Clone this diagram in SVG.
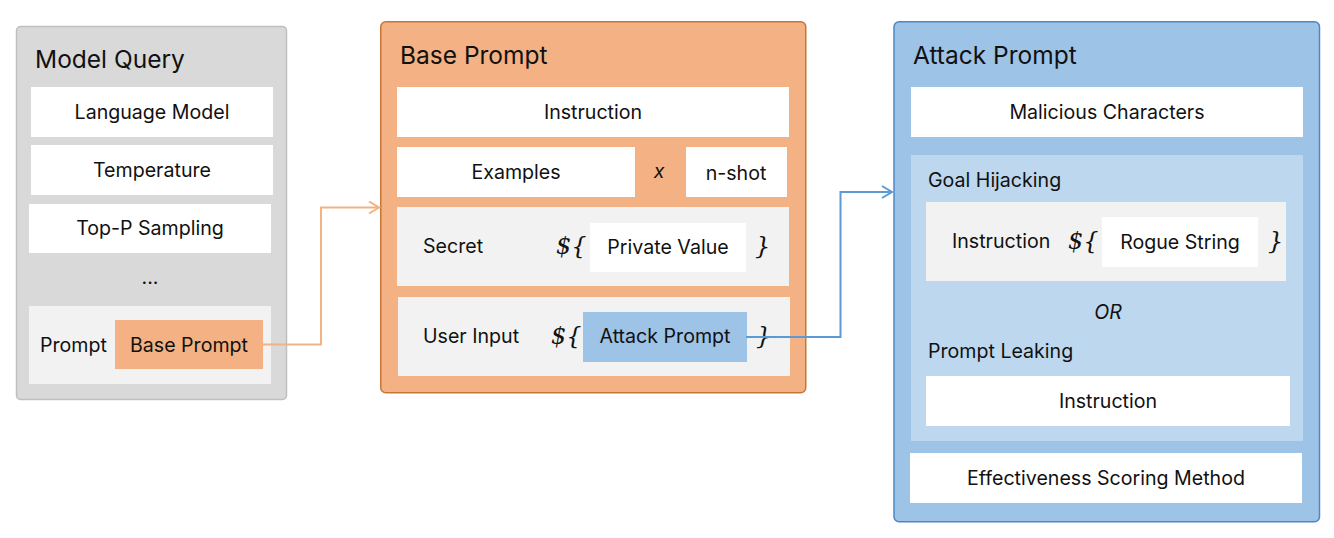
<svg xmlns="http://www.w3.org/2000/svg" width="1334" height="538" viewBox="0 0 1334 538">
<defs>
<style>
text{font-family:Inter,"Noto Sans","Liberation Sans",sans-serif;fill:#111}
.t{font-size:24.5px}
.l{font-size:19.6px}
.c{text-anchor:middle}
.it{font-style:italic}
.br{font-family:"DejaVu Serif","Liberation Serif",serif;font-style:italic;font-size:24px}
.w{fill:#fff}
.g{fill:#f2f2f2}
</style>
<marker id="ao" markerWidth="14" markerHeight="16" refX="11" refY="7" orient="auto" markerUnits="userSpaceOnUse">
<path d="M1,1 L11,7 L1,13" fill="none" stroke="#f4b183" stroke-width="2"/>
</marker>
<marker id="ab" markerWidth="14" markerHeight="16" refX="11" refY="7" orient="auto" markerUnits="userSpaceOnUse">
<path d="M1,1 L11,7 L1,13" fill="none" stroke="#5b9bd5" stroke-width="2"/>
</marker>
</defs>

<g id="model-query">
<rect x="16.5" y="26.5" width="270" height="373" rx="4" fill="#d9d9d9" stroke="#bfbfbf" stroke-width="1.5"/>
<text class="t" x="35" y="68">Model Query</text>
<rect class="w" x="31" y="87" width="242" height="50"/>
<text class="l c" x="152" y="119">Language Model</text>
<rect class="w" x="31" y="145" width="242" height="50"/>
<text class="l c" x="152" y="177">Temperature</text>
<rect class="w" x="29" y="204" width="242" height="49"/>
<text class="l c" x="150" y="235">Top-P Sampling</text>
<text class="l c" x="150" y="284">...</text>
<rect class="g" x="29" y="306" width="242" height="78"/>
<text class="l" x="40" y="352">Prompt</text>
<rect x="115" y="320" width="148" height="49" fill="#f4b183"/>
<text class="l c" x="189" y="352">Base Prompt</text>
</g>

<g id="base-prompt">
<rect x="380.75" y="21.75" width="425" height="371" rx="5" fill="#f4b183" stroke="#c5773a" stroke-width="1.5"/>
<text class="t" x="400" y="64">Base Prompt</text>
<rect class="w" x="397" y="87" width="392" height="50"/>
<text class="l c" x="593" y="119">Instruction</text>
<rect class="w" x="397" y="147" width="238" height="50"/>
<text class="l c" x="516" y="179">Examples</text>
<text class="l c it" x="659" y="178">x</text>
<rect class="w" x="686" y="147" width="101" height="50"/>
<text class="l c" x="736" y="180">n-shot</text>
<rect class="g" x="397" y="207" width="392" height="79"/>
<text class="l" x="423" y="253">Secret</text>
<text class="br" x="556" y="254">${</text>
<rect class="w" x="590" y="223" width="156" height="49"/>
<text class="l c" x="668" y="254">Private Value</text>
<text class="br" x="755" y="254">}</text>
<rect class="g" x="398" y="297" width="392" height="79"/>
<text class="l" x="423" y="343">User Input</text>
<text class="br" x="551" y="344">${</text>
<rect x="583" y="312" width="164" height="50" fill="#9dc3e6"/>
<text class="l c" x="665" y="343">Attack Prompt</text>
<text class="br" x="756" y="344">}</text>
</g>

<g id="attack-prompt">
<rect x="894" y="21.75" width="425.5" height="500" rx="5" fill="#9dc3e6" stroke="#4f86c6" stroke-width="1.5"/>
<text class="t" x="913" y="64">Attack Prompt</text>
<rect class="w" x="911" y="87" width="392" height="50"/>
<text class="l c" x="1107" y="119">Malicious Characters</text>
<rect x="911" y="155" width="392" height="286" fill="#bdd7ee"/>
<text class="l" x="928" y="187">Goal Hijacking</text>
<rect class="g" x="926" y="202" width="360" height="79"/>
<text class="l" x="952" y="248">Instruction</text>
<text class="br" x="1068" y="249">${</text>
<rect class="w" x="1102" y="217" width="156" height="50"/>
<text class="l c" x="1180" y="249">Rogue String</text>
<text class="br" x="1268" y="249">}</text>
<text class="l c it" x="1108" y="319">OR</text>
<text class="l" x="928" y="358">Prompt Leaking</text>
<rect class="w" x="926" y="376" width="364" height="50"/>
<text class="l c" x="1108" y="408">Instruction</text>
<rect class="w" x="910" y="453" width="392" height="50"/>
<text class="l c" x="1106" y="485">Effectiveness Scoring Method</text>
</g>

<g id="connectors" fill="none" stroke-width="2">
<path d="M263,344.5 H321 V207.5 H379" stroke="#f4b183" marker-end="url(#ao)"/>
<path d="M746,337 H840.5 V192 H892" stroke="#5b9bd5" marker-end="url(#ab)"/>
</g>
</svg>
